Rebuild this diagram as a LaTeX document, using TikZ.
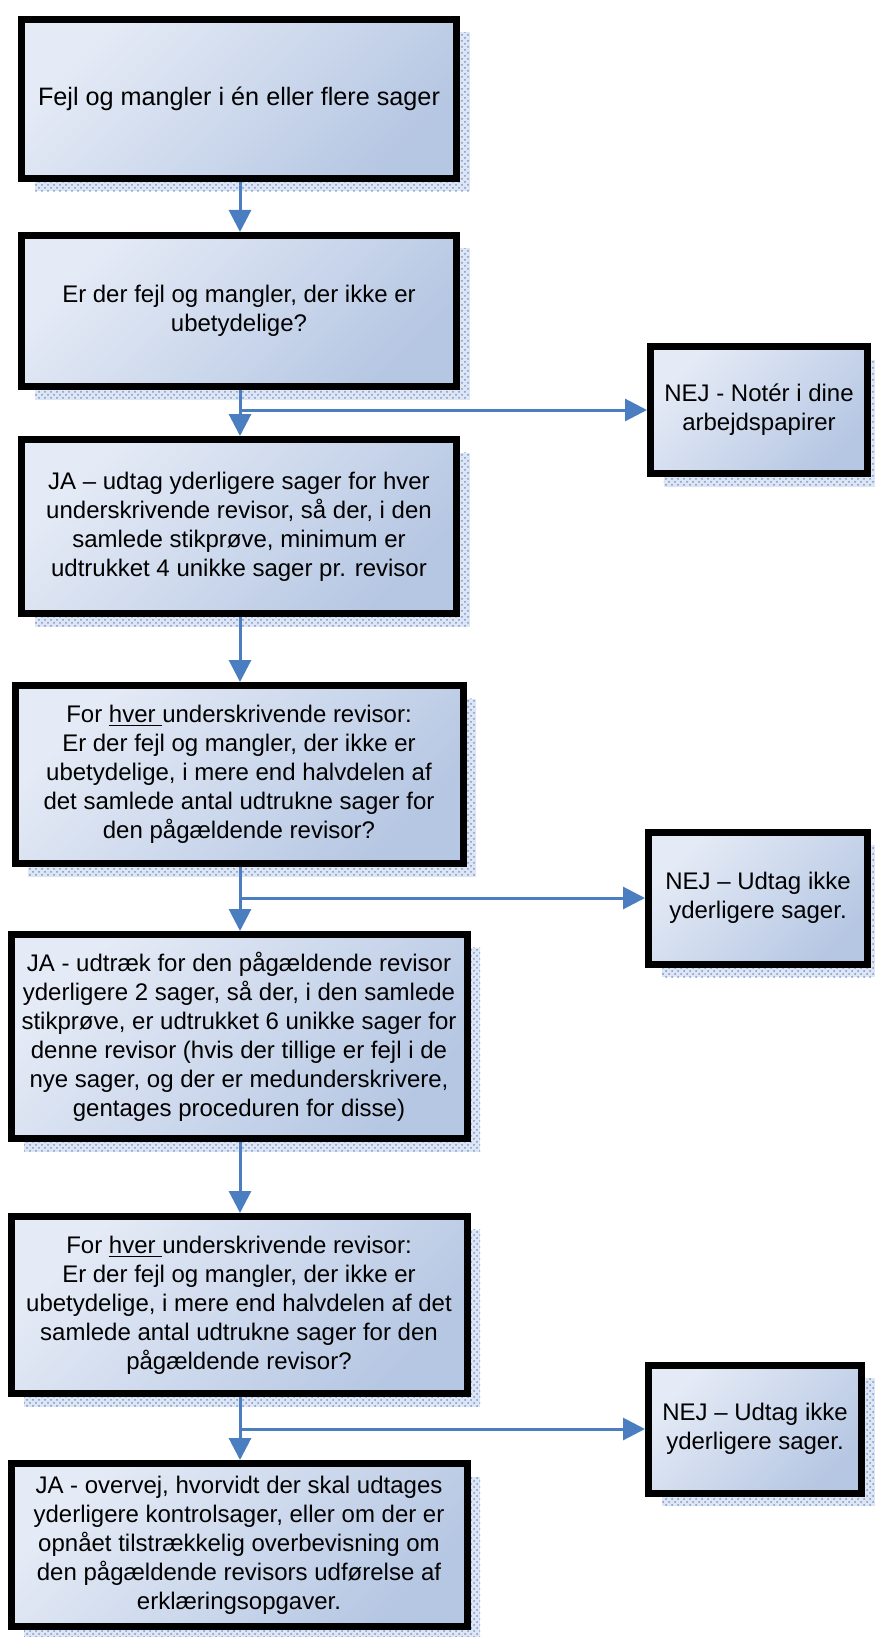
\documentclass[tikz,border=0pt]{standalone}
\usepackage{fontspec}
\setmainfont{Liberation Sans}
\usetikzlibrary{arrows.meta, positioning, shadows, patterns}
\definecolor{boxlight}{RGB}{229,235,246}
\definecolor{boxdark}{RGB}{182,199,227}
\definecolor{flowblue}{RGB}{74,126,193}
\definecolor{shadowpale}{RGB}{222,230,244}
\definecolor{dotblue}{RGB}{120,150,208}
\tikzstyle{every node}=[font=\fontsize{12}{14.5}\selectfont]
\tikzstyle{block}=[draw=black, line width=3.5pt, rectangle, align=center,
  top color=boxlight, bottom color=boxdark, shading angle=45,
  general shadow={shadow xshift=6.5pt, shadow yshift=-6.5pt, fill=shadowpale},
  general shadow={shadow xshift=6.5pt, shadow yshift=-6.5pt,
    pattern=crosshatch dots, pattern color=dotblue}]
\tikzstyle{flow}=[draw=flowblue, line width=1.5pt, -{Triangle[length=11pt,width=11pt]}]

\begin{document}
\begin{tikzpicture}[x=0.5pt, y=-0.5pt]
  \useasboundingbox (0,0) rectangle (874,1637);
  \coordinate (trunk) at (240,0);
  % main column
  \node[block, minimum width=217.5pt, minimum height=79.5pt, font=\fontsize{12.6}{15}\selectfont] (b1) at (239,99)
    {Fejl og mangler i én eller flere sager};
  \node[block, minimum width=217.5pt, minimum height=75.5pt, below of=b1, node distance=106pt] (b2)
    {Er der fejl og mangler, der ikke er\\ubetydelige?};
  \node[block, minimum width=217.5pt, minimum height=87pt, below of=b2, node distance=107.75pt] (b3)
    {JA – udtag yderligere sager for hver\\underskrivende revisor, så der, i den\\samlede stikprøve, minimum er\\udtrukket 4 unikke sager pr. revisor};
  \node[block, minimum width=224pt, minimum height=89pt, below of=b3, node distance=124pt] (b4)
    {For \underline{hver\ }underskrivende revisor:\\Er der fejl og mangler, der ikke er\\ubetydelige, i mere end halvdelen af\\det samlede antal udtrukne sager for\\den pågældende revisor?};
  \node[block, minimum width=228pt, minimum height=102pt, below of=b4, node distance=131pt] (b5)
    {JA - udtræk for den pågældende revisor\\yderligere 2 sager, så der, i den samlede\\stikprøve, er udtrukket 6 unikke sager for\\denne revisor (hvis der tillige er fejl i de\\nye sager, og der er medunderskrivere,\\gentages proceduren for disse)};
  \node[block, minimum width=228pt, minimum height=88.5pt, below of=b5, node distance=134.25pt] (b6)
    {For \underline{hver\ }underskrivende revisor:\\Er der fejl og mangler, der ikke er\\ubetydelige, i mere end halvdelen af det\\samlede antal udtrukne sager for den\\pågældende revisor?};
  \node[block, minimum width=228pt, minimum height=81.5pt, below of=b6, node distance=120pt] (b7)
    {JA - overvej, hvorvidt der skal udtages\\yderligere kontrolsager, eller om der er\\opnået tilstrækkelig overbevisning om\\den pågældende revisors udførelse af\\erklæringsopgaver.};
  % NEJ side
  \coordinate (j1) at (240,410);
  \coordinate (j2) at (240,898);
  \coordinate (j3) at (240,1429);
  \node[block, minimum width=108.5pt, minimum height=63.5pt, right of=j1, node distance=259.5pt] (n1)
    {NEJ - Notér i dine\\arbejdspapirer};
  \node[block, minimum width=109.5pt, minimum height=66pt, right of=j2, node distance=259pt] (n2)
    {NEJ – Udtag ikke\\yderligere sager.};
  \node[block, minimum width=106.5pt, minimum height=64pt, right of=j3, node distance=257.5pt] (n3)
    {NEJ – Udtag ikke\\yderligere sager.};
  \draw[flow] (b1.south -| trunk) -- (b2.north -| trunk);
  \draw[flow] (b2.south -| trunk) -- (b3.north -| trunk);
  \draw[flow] (b3.south -| trunk) -- (b4.north -| trunk);
  \draw[flow] (b4.south -| trunk) -- (b5.north -| trunk);
  \draw[flow] (b5.south -| trunk) -- (b6.north -| trunk);
  \draw[flow] (b6.south -| trunk) -- (b7.north -| trunk);
  \draw[flow] (j1) -- (n1);
  \draw[flow] (j2) -- (n2);
  \draw[flow] (j3) -- (n3);
\end{tikzpicture}
\end{document}
